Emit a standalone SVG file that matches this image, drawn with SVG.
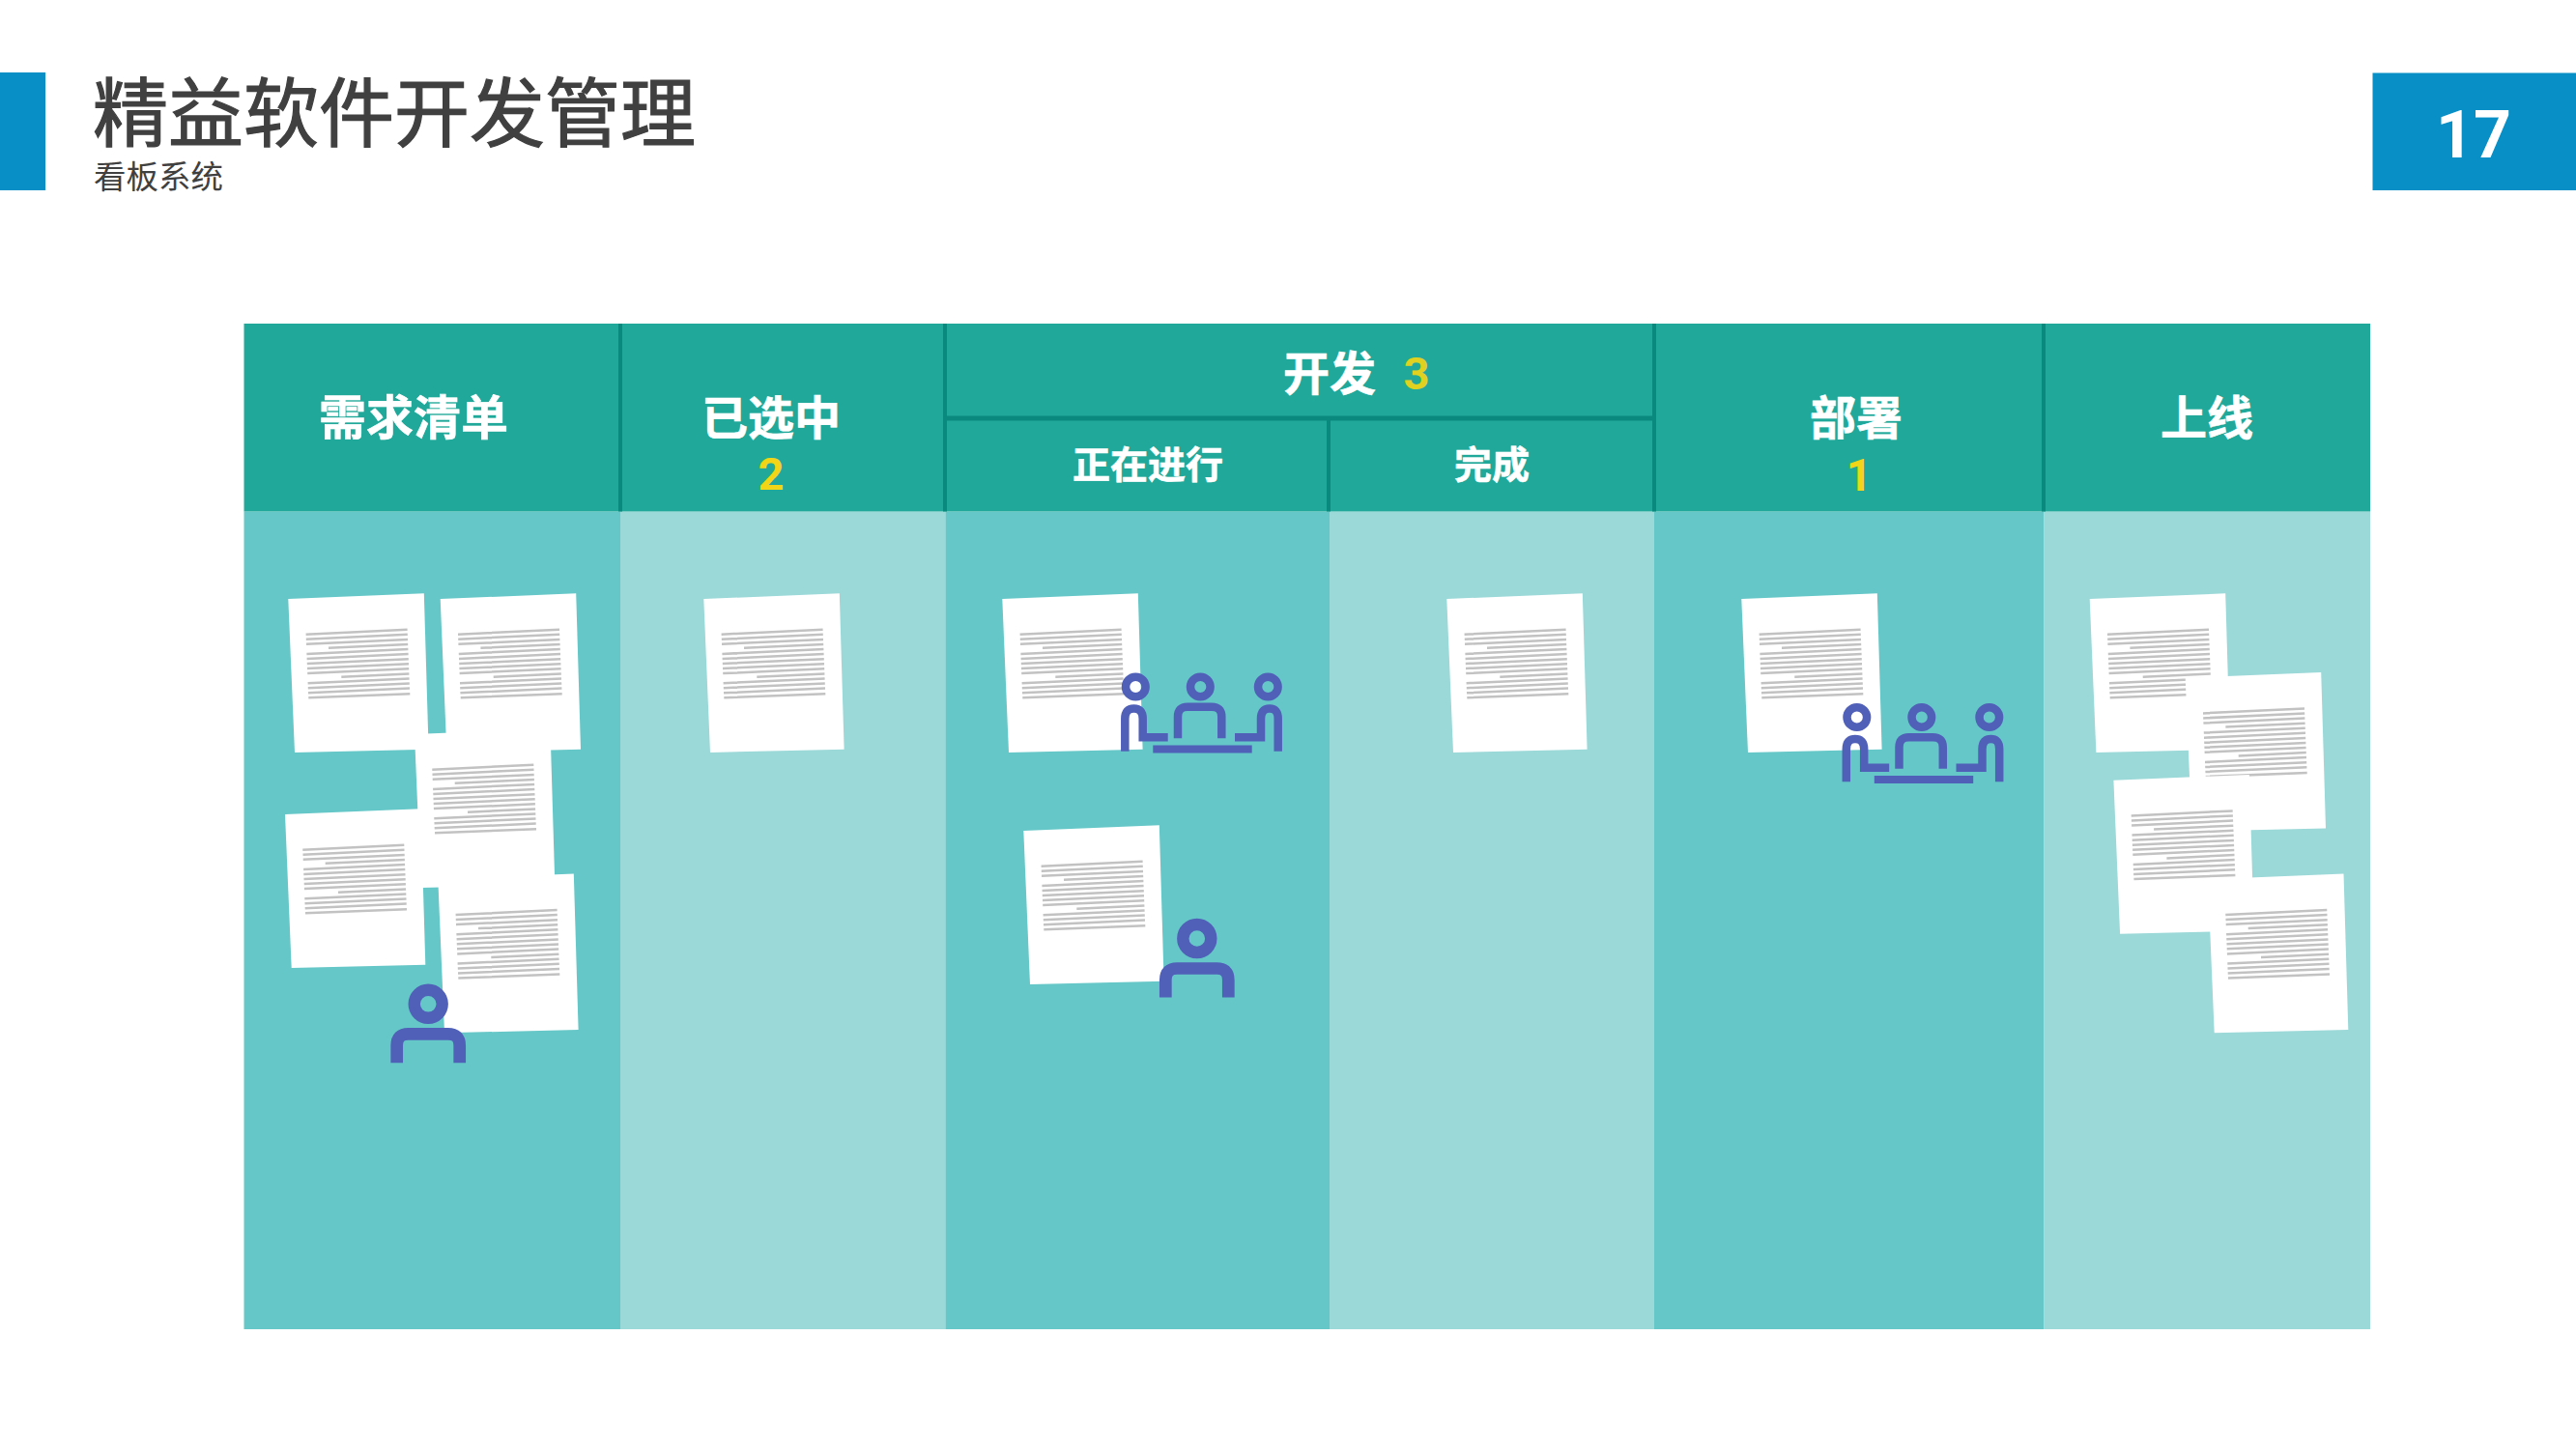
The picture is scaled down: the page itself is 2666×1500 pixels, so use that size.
<svg xmlns="http://www.w3.org/2000/svg" width="2666" height="1500" viewBox="0 0 2666 1500">
<style>
.dark{fill:#65c7c7}.light{fill:#9bd8d8}.head{fill:#20a99a}
.sep{stroke:#0a8a7e;fill:none}
.ico{stroke:#5060b8;fill:none}
.cjk{font-family:"Noto Sans CJK SC","Liberation Sans",sans-serif}
.h{font-family:"Noto Sans CJK SC","Liberation Sans",sans-serif;font-weight:700;fill:#fff;stroke:#fff;stroke-width:.6;text-anchor:middle}
.n{font-family:Roboto,"Liberation Sans",sans-serif;font-weight:700;text-anchor:middle;fill:#f2d516}
</style>
<defs>
<g id="doc">
<polygon points="0,0 140.5,-5.7 145.3,155.7 6.7,159" fill="#fff"/>
<path stroke="#c2c2c2" stroke-width="2.5" fill="none" d="M18.3 36.7L123.3 31.7M18.5 41.7L123.5 36.7M18.7 46.8L123.7 41.9M41.7 50.8L123.9 47M19.1 56.9L124.1 52M19.3 62L124.3 57M19.5 67L124.5 62.2M19.7 72L124.7 67.3M19.9 77.1L124.9 72.3M55 80.7L125.1 77.4M20.3 87.2L125.3 82.4M20.5 92.2L125.5 87.5M20.7 97.3L125.7 92.6M21 102.3L126 98.3"/>
</g>
<g id="person" class="ico">
<circle cx="32.5" cy="21" r="14.5" stroke-width="12.4"/>
<path stroke-width="12.7" d="M0 82V64Q0 52 12 52H53Q65 52 65 64V82"/>
</g>
<g id="team" class="ico">
<circle cx="1175.3" cy="711" r="10.3" stroke-width="8.5"/>
<circle cx="1242.3" cy="711" r="10.3" stroke-width="8.5"/>
<circle cx="1312.3" cy="711" r="10.3" stroke-width="8.5"/>
<path stroke-width="8.5" d="M1164.3 777.7V744Q1164.3 733.5 1173.5 733.5Q1182.7 733.5 1182.7 744V763.3H1208.7"/>
<path stroke-width="8.5" d="M1219 764.3V742Q1219 731.7 1229 731.7H1254Q1264.3 731.7 1264.3 742V764.3"/>
<path stroke-width="8.5" d="M1322.7 777.7V744Q1322.7 733.5 1314 733.5Q1305 733.5 1305 744V763.3H1278"/>
<rect x="1193.3" y="771.5" width="102.4" height="8" fill="#5060b8" stroke="none"/>
</g>
</defs>
<rect width="2666" height="1500" fill="#fff"/>
<g id="title">
<rect x="0" y="75" width="47" height="122" fill="#078fc6"/>
<text class="cjk" x="96" y="146" font-size="78" fill="#404040" stroke="#404040" stroke-width="1.2">精益软件开发管理</text>
<text class="cjk" x="97" y="195" font-size="33.5" fill="#404040">看板系统</text>
</g>
<g id="page-number">
<rect x="2455.5" y="75.5" width="210.5" height="121.5" fill="#078fc6"/>
<text x="2560" y="163" font-size="68" font-family="Roboto, Liberation Sans, sans-serif" font-weight="700" fill="#fff" text-anchor="middle">17</text>
</g>
<g id="board">
<rect class="dark" x="252.5" y="529.5" width="389.5" height="846.5"/>
<rect class="light" x="642" y="529.5" width="336.4" height="846.5"/>
<rect class="dark" x="978.4" y="529.5" width="397.6" height="846.5"/>
<rect class="light" x="1376" y="529.5" width="336" height="846.5"/>
<rect class="dark" x="1712" y="529.5" width="403.5" height="846.5"/>
<rect class="light" x="2115.5" y="529.5" width="337.5" height="846.5"/>
<rect class="head" x="252.5" y="335" width="2200.5" height="194.5"/>
<path class="sep" stroke-width="4" d="M642 335V529.5M978 335V529.5M1712 335V529.5M2115 335V529.5M1375 433V529.5"/>
<path class="sep" stroke-width="5" d="M978 433H1712"/>
<text class="h" x="428" y="450" font-size="49">需求清单</text>
<text class="h" x="798" y="450" font-size="48">已选中</text>
<text class="n" x="798" y="507" font-size="47">2</text>
<text class="h" x="1376" y="404" font-size="48">开发</text>
<text class="n" x="1466" y="403" font-size="47" style="fill:#e0d020">3</text>
<text class="h" x="1188" y="495" font-size="39">正在进行</text>
<text class="h" x="1544" y="495" font-size="39">完成</text>
<text class="h" x="1921" y="450" font-size="48">部署</text>
<text class="n" x="1924" y="508" font-size="46">1</text>
<text class="h" x="2284" y="450" font-size="48">上线</text>
</g>
<g id="col-backlog">
<use href="#doc" x="298.3" y="620"/>
<use href="#doc" x="455.7" y="620"/>
<use href="#doc" x="429" y="760"/>
<use href="#doc" x="295" y="843"/>
<use href="#doc" x="453.3" y="910.3"/>
<use href="#person" x="410.7" y="1018.3"/>
</g>
<g id="col-selected">
<use href="#doc" x="728.3" y="620"/>
</g>
<g id="col-doing">
<use href="#doc" x="1037.3" y="620"/>
<use href="#team"/>
<use href="#doc" x="1059.3" y="860"/>
<use href="#person" x="1206.3" y="950.5"/>
</g>
<g id="col-done">
<use href="#doc" x="1497.3" y="620"/>
</g>
<g id="col-deploy">
<use href="#doc" x="1802.3" y="620"/>
<use href="#team" x="746.5" y="31.5"/>
</g>
<g id="col-live">
<use href="#doc" x="2162.7" y="620"/>
<use href="#doc" x="2261.7" y="701.7"/>
<use href="#doc" x="2187.4" y="807.7"/>
<use href="#doc" x="2285" y="910.3"/>
</g>
</svg>
